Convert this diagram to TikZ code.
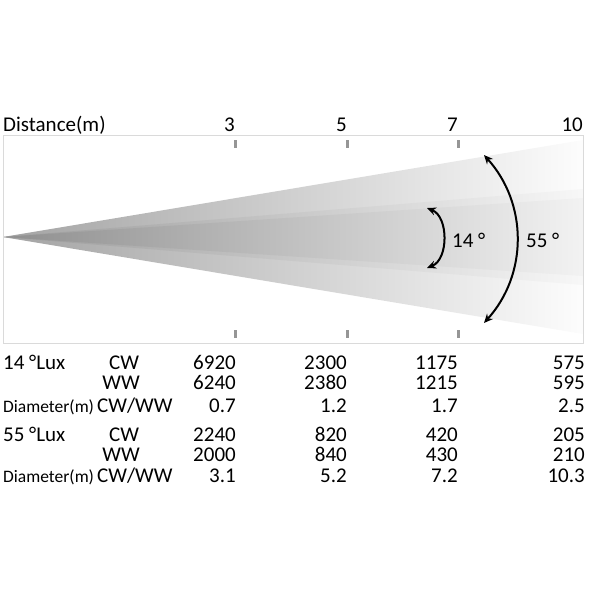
\documentclass[tikz,border=0pt]{standalone}
\usepackage{fontspec}
\setmainfont{Carlito}
\usetikzlibrary{arrows.meta}
\definecolor{framegray}{RGB}{218,218,218}
\definecolor{tickgray}{RGB}{150,150,150}
\begin{document}
\begin{tikzpicture}[x=1pt,y=-1pt,
    txt/.style={inner sep=0pt,font=\fontsize{21}{21}\selectfont},
    small/.style={inner sep=0pt,font=\fontsize{17.5}{17.5}\selectfont},
    tickmark/.style={fill=tickgray,draw=none},
    anglearrow/.style={line width=2pt,{Stealth[length=9pt,width=8pt]}-{Stealth[length=9pt,width=8pt]}}]
  \useasboundingbox (0,0) rectangle (600,600);
  \coordinate (apex) at (3,237);
  \shade[left color=black!36,right color=black!1] (apex) -- (583,140) -- (583,334) -- cycle;
  \shade[left color=black!40,right color=black!3] (apex) -- (583,189) -- (583,285) -- cycle;
  \shade[left color=black!44,right color=black!5] (apex) -- (583,198) -- (583,276) -- cycle;
  \draw[framegray,line width=1pt] (3,135) rectangle (583,343);
  \node[txt,anchor=base west] (dist) at (3,131) {Distance(m)};
  \foreach \x/\d in {235/3,347/5,458/7} {
    \node[txt,anchor=base east] (d\d) at (\x,131) {\d};
    \fill[tickmark] (\x-1.5,140) rectangle (\x+1.5,148);
    \fill[tickmark] (\x-1.5,330) rectangle (\x+1.5,338);
  }
  \node[txt,anchor=base east] (d10) at (583,131) {10};
  \coordinate (n14a) at (427,208);
  \coordinate (n14b) at (427,268);
  \coordinate (n55a) at (484,155);
  \coordinate (n55b) at (484,323);
  \draw[anglearrow] (n14a) to[bend left=68] (n14b);
  \draw[anglearrow] (n55a) to[bend left=42] (n55b);
  \node[txt,anchor=base west] (a14) at (452,247) {14 °};
  \node[txt,anchor=base west] (a55) at (526,247) {55 °};
  \node[txt,anchor=base west] (l14) at (3,369) {14 °Lux};
  \node[txt,anchor=base] (cw14) at (124,369) {CW};
  \node[txt,anchor=base] (ww14) at (121,389) {WW};
  \node[small,anchor=base west] (dm14) at (3,412) {Diameter(m)};
  \node[txt,anchor=base west] (cwww14) at (97,412) {CW/WW};
  \node[txt,anchor=base west] (l55) at (3,441) {55 °Lux};
  \node[txt,anchor=base] (cw55) at (124,441) {CW};
  \node[txt,anchor=base] (ww55) at (121,461) {WW};
  \node[small,anchor=base west] (dm55) at (3,482) {Diameter(m)};
  \node[txt,anchor=base west] (cwww55) at (97,482) {CW/WW};
  \foreach \r/\y/\a/\b/\c/\d in {1/369/6920/2300/1175/575,2/389/6240/2380/1215/595,3/412/0.7/1.2/1.7/2.5,
      4/441/2240/820/420/205,5/461/2000/840/430/210,6/482/3.1/5.2/7.2/10.3} {
    \node[txt,anchor=base east] (v\r a) at (236,\y) {\a};
    \node[txt,anchor=base east] (v\r b) at (347,\y) {\b};
    \node[txt,anchor=base east] (v\r c) at (458,\y) {\c};
    \node[txt,anchor=base east] (v\r d) at (585,\y) {\d};
  }
\end{tikzpicture}
\end{document}
